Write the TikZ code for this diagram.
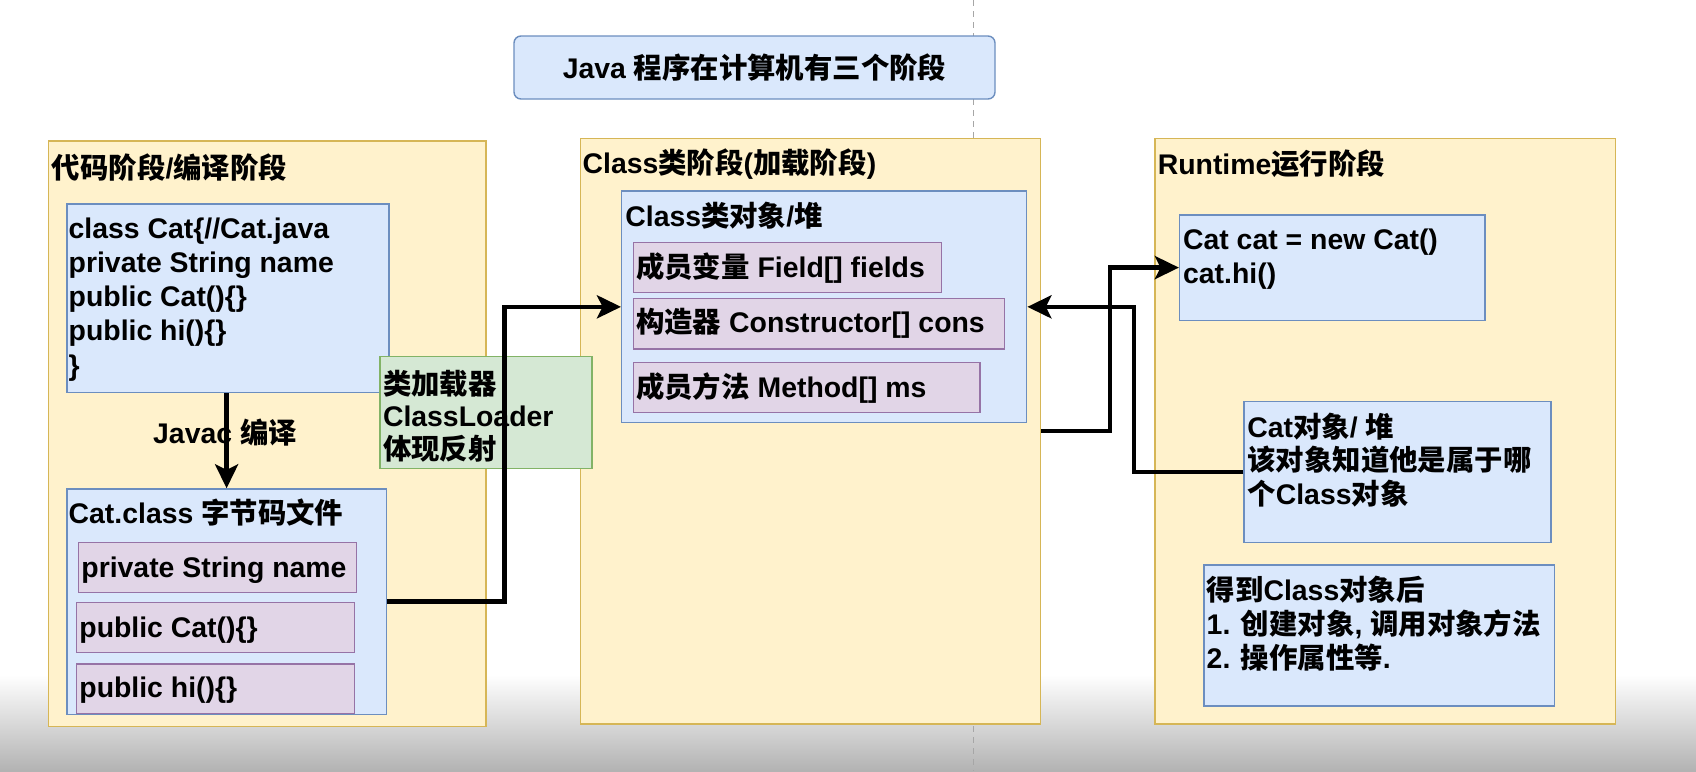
\documentclass[tikz,border=0pt]{standalone}
\usepackage{fontspec}
\setmainfont{Liberation Sans}
\newfontfamily\cjk{Noto Sans CJK SC}
\usetikzlibrary{arrows.meta,fit}
\definecolor{panelF}{HTML}{FFF2CC}
\definecolor{panelD}{HTML}{D6B656}
\definecolor{blueF}{HTML}{DAE8FC}
\definecolor{blueD}{HTML}{6C8EBF}
\definecolor{purF}{HTML}{E1D5E7}
\definecolor{purD}{HTML}{9673A6}
\definecolor{grnF}{HTML}{D5E8D4}
\definecolor{grnD}{HTML}{82B366}
\newcommand\zh[1]{{\cjk #1}}
\begin{document}
\begin{tikzpicture}[x=0.5pt,y=-0.5pt,
  txt/.style={inner sep=0pt, anchor=base west, font=\bfseries\fontsize{14.2}{17}\selectfont},
  panel/.style={draw=panelD, fill=panelF, line width=0.7pt, inner sep=0pt},
  bluebox/.style={draw=blueD, fill=blueF, line width=0.7pt, inner sep=0pt},
  purbox/.style={draw=purD, fill=purF, line width=0.7pt, inner sep=0pt},
  grnbox/.style={draw=grnD, fill=grnF, line width=0.7pt, inner sep=0pt},
  titlebox/.style={draw=blueD, fill=blueF, line width=0.7pt, inner sep=0pt, rounded corners=3.5pt},
  conn/.style={line width=2.2pt, -{Stealth[length=12pt,width=11.5pt,inset=2.8pt]}},
  guide/.style={draw=black!35, line width=0.5pt, dash pattern=on 3pt off 2.5pt}
]
\useasboundingbox (0,0) rectangle (1696,771);
\fill[white] (0,0) rectangle (1696,771);
\shade[top color=white, bottom color=black!30] (0,675) rectangle (1696,771);
\draw[guide] (973,0) -- (973,771);

% panels
\node[panel, fit={(48.7,140.8)(485.8,726.5)}] (p1) {};
\node[panel, fit={(580.5,138.4)(1040.3,724)}] (p2) {};
\node[panel, fit={(1155,138.4)(1615.5,724)}] (p3) {};
\node[titlebox, fit={(514,36)(995,99)}] (title) {};
\node[txt, anchor=base] (tt) at (754.5,78.5) {Java \zh{程序在计算机有三个阶段}};

% left panel
\node[txt] (t1) at (51.5,178) {\zh{代码阶段}/\zh{编译阶段}};
\node[bluebox, fit={(66.8,203.9)(389,392.5)}] (code) {};
\node[txt] (c1) at (68.3,238.3) {class Cat\{//Cat.java};
\node[txt] (c2) at (68.3,272.5) {private String name};
\node[txt] (c3) at (68.3,306.7) {public Cat()\{\}};
\node[txt] (c4) at (68.3,340.9) {public hi()\{\}};
\node[txt] (c5) at (68.3,375.1) {\}};
\node[bluebox, fit={(66.8,489)(386.4,714.3)}] (catclass) {};
\node[txt] (cc) at (68.3,523.4) {Cat.class \zh{字节码文件}};
\node[purbox, fit={(78.6,542.6)(356.4,592.3)}] (pv1) {};
\node[purbox, fit={(76.4,602.6)(354.3,652.4)}] (pv2) {};
\node[purbox, fit={(76.4,663.9)(354.3,713.5)}] (pv3) {};
\node[txt] (pt1) at (81,577) {private String name};
\node[txt] (pt2) at (79,637) {public Cat()\{\}};
\node[txt] (pt3) at (79,697.6) {public hi()\{\}};
\node[txt, anchor=base] (javac) at (225,443) {Javac \zh{编译}};

% middle panel
\node[txt] (t2) at (582.3,173.3) {Class\zh{类阶段}(\zh{加载阶段})};
\node[bluebox, fit={(621.7,191)(1026.7,422.7)}] (clsobj) {};
\node[txt] (co) at (625,226.7) {Class\zh{类对象}/\zh{堆}};
\node[purbox, fit={(633.3,242.7)(941.7,292.7)}] (f1) {};
\node[purbox, fit={(633.3,298.3)(1004.3,349)}] (f2) {};
\node[purbox, fit={(633.3,362.3)(980,412.7)}] (f3) {};
\node[txt] (ft1) at (635.7,277.3) {\zh{成员变量} Field[] fields};
\node[txt] (ft2) at (635.7,332.7) {\zh{构造器} Constructor[] cons};
\node[txt] (ft3) at (635.7,397.7) {\zh{成员方法} Method[] ms};

% green loader box
\node[grnbox, fit={(380,356.6)(591.8,468.7)}] (loader) {};
\node[txt] (g1) at (382.6,394) {\zh{类加载器}};
\node[txt] (g2) at (382.6,426.5) {ClassLoader};
\node[txt] (g3) at (382.6,459) {\zh{体现反射}};

% right panel
\node[txt] (t3) at (1157.4,174) {Runtime\zh{运行阶段}};
\node[bluebox, fit={(1179.6,215)(1484.9,320.2)}] (catnew) {};
\node[txt] (n1) at (1182.7,249.4) {Cat cat = new Cat()};
\node[txt] (n2) at (1182.7,283) {cat.hi()};
\node[bluebox, fit={(1244,401.7)(1551,542.5)}] (catobj) {};
\node[txt] (o1) at (1247,437.3) {Cat\zh{对象}/ \zh{堆}};
\node[txt] (o2) at (1247,470.9) {\zh{该对象知道他是属于哪}};
\node[txt] (o3) at (1247,504.5) {\zh{个}Class\zh{对象}};
\node[bluebox, fit={(1204,565)(1554.3,706)}] (after) {};
\node[txt] (a1) at (1206.3,600) {\zh{得到}Class\zh{对象后}};
\node[txt] (a2) at (1206.3,634) {1. \zh{创建对象}, \zh{调用对象方法}};
\node[txt] (a3) at (1206.3,668) {2. \zh{操作属性等}.};

% connectors
\draw[conn] (code.south -| catclass.north) -- (catclass.north);
\draw[conn] (catclass.east) -- ++(117.2,0) |- (clsobj.west);
\draw[conn] (p2.east) -- ++(69.1,0) |- (catnew.west);
\draw[conn] (catobj.west) -- ++(-109.3,0) |- (clsobj.east);
\end{tikzpicture}
\end{document}
